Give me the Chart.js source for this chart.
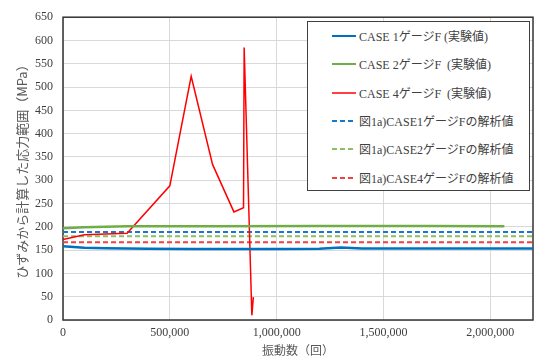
<!DOCTYPE html>
<html>
<head>
<meta charset="utf-8">
<script src="https://cdn.jsdelivr.net/npm/chart.js@4/dist/chart.umd.min.js"></script>
<style>
  html, body { margin: 0; padding: 0; background: #fff; }
  #wrap { position: relative; width: 538px; height: 363px; }
  #legend {
    position: absolute; left: 307px; top: 21px; width: 223px; height: 170px;
    box-sizing: border-box; border: 1px solid #404040; background: #fff;
    font: 12px "Liberation Serif", "Noto Sans CJK JP", serif; color: #404040;
  }
  .item { position: absolute; left: 24px; height: 16px; display: flex; align-items: center; white-space: pre; }
  .item svg { display: block; margin-right: 3px; }
</style>
</head>
<body>
<div id="wrap">
  <canvas id="c" width="538" height="363"></canvas>
  <div id="legend"></div>
</div>
<script>
// ---- data ----
const seriesLabels = [
  "CASE 1ゲージF (実験値)",
  "CASE 2ゲージF  (実験値)",
  "CASE 4ゲージF  (実験値)",
  "図1a)CASE1ゲージFの解析値",
  "図1a)CASE2ゲージFの解析値",
  "図1a)CASE4ゲージFの解析値"
];

const case1X = [0, 50000, 100000, 200000, 400000, 600000, 800000, 1000000, 1200000, 1300000, 1400000, 1600000, 1800000, 2000000, 2200000];
const case1Y = [158.5, 156.5, 155, 154, 153, 152.5, 152.5, 152.5, 153, 155.5, 153.5, 153.5, 153.5, 153.5, 153.5];

const case2X = [0, 100000, 300000, 700000, 1200000, 1700000, 2066000];
const case2Y = [197, 199, 201, 201.5, 202, 202, 201.5];

const case4X = [0, 100000, 300000, 500000, 600000, 700000, 800000, 845000, 848000, 884000, 891000];
const case4Y = [173, 183, 186, 288, 523, 334, 232, 241, 585, 10, 49];

const analysisX = [0, 2200000];
const analysis1Y = [189, 189];
const analysis2Y = [180, 180];
const analysis4Y = [167, 167];

const xTickValues = [0, 500000, 1000000, 1500000, 2000000];
const yTickValues = [0, 50, 100, 150, 200, 250, 300, 350, 400, 450, 500, 550, 600, 650];

const xTitle = "振動数（回）";
const yTitle = "ひずみから計算した応力範囲（MPa）";

// ---- build ----
const pts = (xs, ys) => xs.map((x, i) => ({ x: x, y: ys[i] }));

const datasets = [
  { label: seriesLabels[0], data: pts(case1X, case1Y), borderColor: "#0070C0", borderWidth: 2.5 },
  { label: seriesLabels[1], data: pts(case2X, case2Y), borderColor: "#70AD47", borderWidth: 2.5 },
  { label: seriesLabels[2], data: pts(case4X, case4Y), borderColor: "#FF0000", borderWidth: 1.5 },
  { label: seriesLabels[3], data: pts(analysisX, analysis1Y), borderColor: "#1A78C8", borderWidth: 2, borderDash: [5, 3] },
  { label: seriesLabels[4], data: pts(analysisX, analysis2Y), borderColor: "#8CBF64", borderWidth: 2, borderDash: [5, 3] },
  { label: seriesLabels[5], data: pts(analysisX, analysis4Y), borderColor: "#F24040", borderWidth: 2, borderDash: [5, 3] }
].map(d => Object.assign({ pointRadius: 0, tension: 0, fill: false }, d));

const framePlugin = {
  id: "frame",
  beforeDatasetsDraw(chart) {
    const { ctx, chartArea: a } = chart;
    ctx.save();
    ctx.strokeStyle = "#333";
    ctx.lineWidth = 1.5;
    ctx.strokeRect(a.left, a.top, a.right - a.left, a.bottom - a.top);
    ctx.restore();
  }
};

Chart.defaults.font.family = '"Liberation Serif", "Noto Sans CJK JP", serif';
Chart.defaults.color = "#404040";

const chart = new Chart(document.getElementById("c"), {
  type: "line",
  data: { datasets: datasets },
  options: {
    responsive: false,
    animation: false,
    layout: { padding: { top: 12, right: 5, left: 0, bottom: 0 } },
    plugins: { legend: { display: false }, tooltip: { enabled: false } },
    scales: {
      x: {
        type: "linear",
        min: 0, max: 2200000,
        afterFit: s => { s.height = 43; },
        afterBuildTicks: s => { s.ticks = xTickValues.map(v => ({ value: v })); },
        ticks: { font: { size: 12 }, color: "#404040", padding: 6, maxRotation: 0,
                 callback: v => Number(v).toLocaleString("en-US") },
        grid: { color: "#d9d9d9", lineWidth: 1, drawTicks: false },
        border: { display: false },
        title: { display: true, text: xTitle, color: "#595959",
                 font: { family: '"Noto Sans CJK JP"', size: 12 }, padding: { top: 0, bottom: 5 } }
      },
      y: {
        min: 0, max: 650,
        afterFit: s => { s.width = 63; },
        afterBuildTicks: s => { s.ticks = yTickValues.map(v => ({ value: v })); },
        ticks: { font: { size: 12 }, color: "#404040", padding: 10 },
        grid: { color: "#d9d9d9", lineWidth: 1, drawTicks: false },
        border: { display: false },
        title: { display: true, text: yTitle, color: "#595959",
                 font: { family: '"Noto Sans CJK JP"', size: 13 }, padding: { top: 14, bottom: 0 } }
      }
    }
  },
  plugins: [framePlugin]
});

// ---- HTML legend built from the datasets ----
const legendEl = document.getElementById("legend");
chart.data.datasets.forEach((ds, i) => {
  const row = document.createElement("div");
  row.className = "item";
  row.style.top = (14 + i * 28.33 - 8) + "px";
  const dash = ds.borderDash ? ds.borderDash.join(",") : "none";
  row.innerHTML =
    '<svg width="24" height="16"><line x1="0" y1="8" x2="24" y2="8" stroke="' + ds.borderColor +
    '" stroke-width="' + Math.min(ds.borderWidth, 2) + '" stroke-dasharray="' + dash + '"/></svg>';
  const span = document.createElement("span");
  span.textContent = ds.label;
  row.appendChild(span);
  legendEl.appendChild(row);
});
</script>
</body>
</html>
